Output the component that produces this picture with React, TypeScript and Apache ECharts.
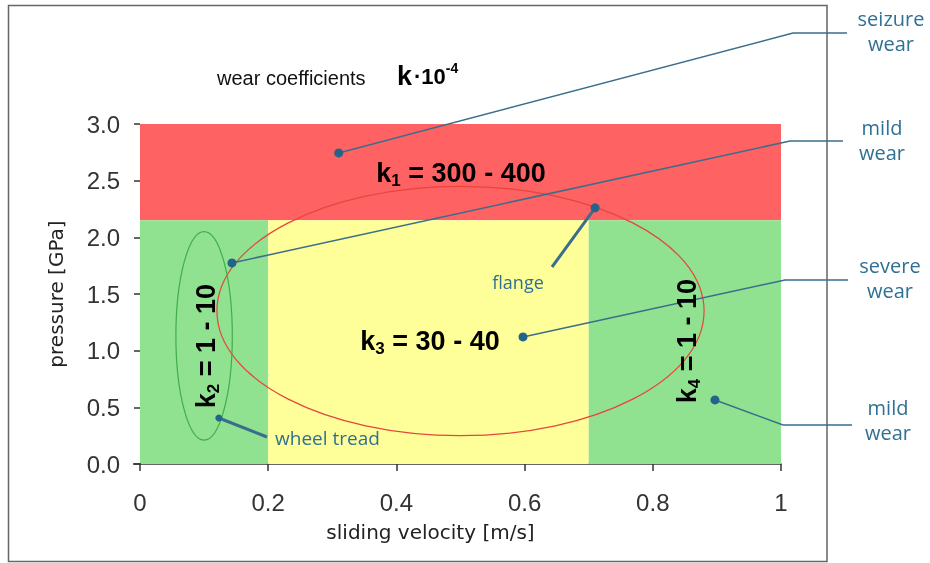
import React, { useEffect, useRef } from 'react';
import * as echarts from 'echarts';

// ---- data ----
const xTickValues = [0, 0.2, 0.4, 0.6, 0.8, 1];
const yTickValues = [0, 0.5, 1, 1.5, 2, 2.5, 3];
// wear zones: [xFrom, xTo, yFrom, yTo]
const zoneBounds = [
  [0, 1, 2.15, 3],
  [0, 0.2, 0, 2.15],
  [0.2, 0.7, 0, 2.15],
  [0.7, 1, 0, 2.15],
];
const zoneColors = ['#ff6262', '#90e290', '#ffff99', '#90e290'];
// ellipses: [cx, cy, rx, ry] in data units
const ellipseData = [
  [0.5, 1.35, 0.38, 1.1],
  [0.1, 1.13, 0.044, 0.92],
];
const ellipseColors = ['#e8453c', '#3fae4a'];
// annotation anchors (data units)
const annotationAnchors = [
  [0.31, 2.745],
  [0.1435, 1.774],
  [0.5975, 1.121],
  [0.897, 0.565],
  [0.71, 2.26],
  [0.123, 0.406],
];
const annotationTexts = ['seizure\nwear', 'mild\nwear', 'severe\nwear', 'mild\nwear', 'flange', 'wheel tread'];

// ---- layout (pixels) ----
const leaderPaths = [
  [[793, 33], [847, 33]],
  [[790, 141], [843, 141]],
  [[785, 280], [848, 280]],
  [[783, 425], [852, 425]],
  [[552, 267]],
  [[267, 437]],
];
const leaderWidths = [1.5, 1.5, 1.5, 1.5, 3, 3];
const annotationTextPos = [
  [891, 31, 'center'],
  [882, 140, 'center'],
  [890, 278, 'center'],
  [888, 420, 'center'],
  [518, 282, 'center'],
  [275, 438, 'left'],
];

const annColor = '#2f7093';
const lineColor = '#3b6d8c';

export default function App() {
  const ref = useRef<HTMLDivElement>(null);
  useEffect(() => {
    if (!ref.current) return;
    const chart = echarts.init(ref.current, null, { renderer: 'svg' });
    const kRich = {
      k: { fontFamily: 'Liberation Sans', fontWeight: 'bold', fontSize: 27, lineHeight: 32, color: '#111' },
      s: { fontFamily: 'Liberation Sans', fontWeight: 'bold', fontSize: 17, lineHeight: 17, verticalAlign: 'bottom', color: '#111' },
    };
    const graphics: any[] = [
      {
        type: 'rect', z: 0, silent: true,
        shape: { x: 8.5, y: 5.5, width: 818.5, height: 556 },
        style: { fill: 'none', stroke: '#666', lineWidth: 1.5 },
      },
      {
        type: 'line', z: 100,
        shape: { x1: 133, y1: 464, x2: 141, y2: 464 },
        style: { stroke: '#333', lineWidth: 1.5 },
      },
      {
        type: 'text', z: 100, x: 217, y: 78,
        style: { text: 'wear coefficients', fontFamily: 'Liberation Sans', fontSize: 20, fill: '#111', verticalAlign: 'middle' },
      },
      {
        type: 'text', z: 100, x: 397, y: 76,
        style: {
          text: '{k|k}{d|·10}{p|-4}',
          verticalAlign: 'middle',
          rich: {
            k: { fontFamily: 'Liberation Sans', fontWeight: 'bold', fontSize: 27, lineHeight: 30, color: '#111' },
            d: { fontFamily: 'Liberation Sans', fontWeight: 'bold', fontSize: 22, lineHeight: 30, color: '#111', padding: [0, 0, 0, 2] },
            p: { fontFamily: 'Liberation Sans', fontWeight: 'bold', fontSize: 14, lineHeight: 14, verticalAlign: 'top', color: '#111' },
          },
        },
      },
      {
        type: 'text', z: 100, x: 461, y: 173,
        style: { text: '{k|k}{s|1}{k| = 300 - 400}', align: 'center', verticalAlign: 'middle', rich: kRich },
      },
      {
        type: 'text', z: 100, x: 430, y: 341,
        style: { text: '{k|k}{s|3}{k| = 30 - 40}', align: 'center', verticalAlign: 'middle', rich: kRich },
      },
      {
        type: 'text', z: 100, x: 206, y: 346, rotation: Math.PI / 2,
        style: { text: '{k|k}{s|2}{k| = 1 - 10}', align: 'center', verticalAlign: 'middle', rich: kRich },
      },
      {
        type: 'text', z: 100, x: 687, y: 341, rotation: Math.PI / 2,
        style: { text: '{k|k}{s|4}{k| = 1 - 10}', align: 'center', verticalAlign: 'middle', rich: kRich },
      },
    ];
    annotationTexts.forEach((t, i) => {
      const [x, y, align] = annotationTextPos[i] as any;
      graphics.push({
        type: 'text', z: 100, x, y,
        style: {
          text: t, align, verticalAlign: 'middle',
          fontFamily: 'Open Sans', fontSize: i < 4 ? 20 : i === 5 ? 19 : 18, lineHeight: 25, fill: annColor,
        },
      });
    });

    chart.setOption({
      animation: false,
      grid: { left: 140, right: 149, top: 124, bottom: 99 },
      xAxis: {
        type: 'value', min: 0, max: 1, interval: 0.2,
        name: 'sliding velocity [m/s]', nameLocation: 'middle', nameGap: 58,
        nameTextStyle: { fontFamily: 'DejaVu Sans', fontSize: 20, color: '#222', padding: [0, 60, 0, 0] },
        axisLine: { show: true, lineStyle: { color: '#333', width: 1.5 } },
        axisTick: { show: true, length: 7, lineStyle: { color: '#333', width: 1.5 } },
        axisLabel: {
          margin: 26, fontFamily: 'Liberation Sans', fontSize: 24, color: '#333',
          formatter: (v: number) => String(Number(v.toFixed(1))),
        },
        splitLine: { show: false },
      },
      yAxis: {
        type: 'value', min: 0, max: 3, interval: 0.5,
        name: 'pressure [GPa]', nameLocation: 'middle', nameGap: 74, nameRotate: 90,
        nameTextStyle: { fontFamily: 'DejaVu Sans', fontSize: 20, color: '#222' },
        axisLine: { show: false },
        axisTick: { show: true, length: 6, lineStyle: { color: '#333', width: 1.5 } },
        axisLabel: {
          margin: 20, fontFamily: 'Liberation Sans', fontSize: 24, color: '#333',
          formatter: (v: number) => v.toFixed(1),
        },
        splitLine: { show: false },
      },
      graphic: graphics,
      series: [
        {
          type: 'custom', z: 1,
          data: zoneBounds,
          encode: { x: [0, 1], y: [2, 3] },
          renderItem: (params: any, api: any) => {
            const p0 = api.coord([api.value(0), api.value(3)]);
            const p1 = api.coord([api.value(1), api.value(2)]);
            return {
              type: 'rect',
              shape: { x: p0[0], y: p0[1], width: p1[0] - p0[0], height: p1[1] - p0[1] },
              style: { fill: zoneColors[params.dataIndex] },
            };
          },
        },
        {
          type: 'custom', z: 2,
          data: ellipseData,
          encode: { x: 0, y: 1 },
          renderItem: (params: any, api: any) => {
            const c = api.coord([api.value(0), api.value(1)]);
            const s = api.size([api.value(2), api.value(3)]);
            return {
              type: 'ellipse',
              shape: { cx: c[0], cy: c[1], rx: s[0], ry: s[1] },
              style: { fill: 'none', stroke: ellipseColors[params.dataIndex], lineWidth: 1.2 },
            };
          },
        },
        {
          type: 'custom', z: 3,
          data: annotationAnchors,
          encode: { x: 0, y: 1 },
          renderItem: (params: any, api: any) => {
            const i = params.dataIndex;
            const p = api.coord([api.value(0), api.value(1)]);
            const pts = [p, ...leaderPaths[i]];
            return {
              type: 'group',
              children: [
                {
                  type: 'polyline',
                  shape: { points: pts },
                  style: { fill: 'none', stroke: lineColor, lineWidth: leaderWidths[i] },
                },
                {
                  type: 'circle',
                  shape: { cx: p[0], cy: p[1], r: i === 5 ? 3.5 : 4.5 },
                  style: { fill: '#24648a' },
                },
              ],
            };
          },
        },
      ],
    });
    return () => chart.dispose();
  }, []);
  return <div ref={ref} style={{ position: 'fixed', left: 0, top: 0, width: 930, height: 563 }} />;
}
